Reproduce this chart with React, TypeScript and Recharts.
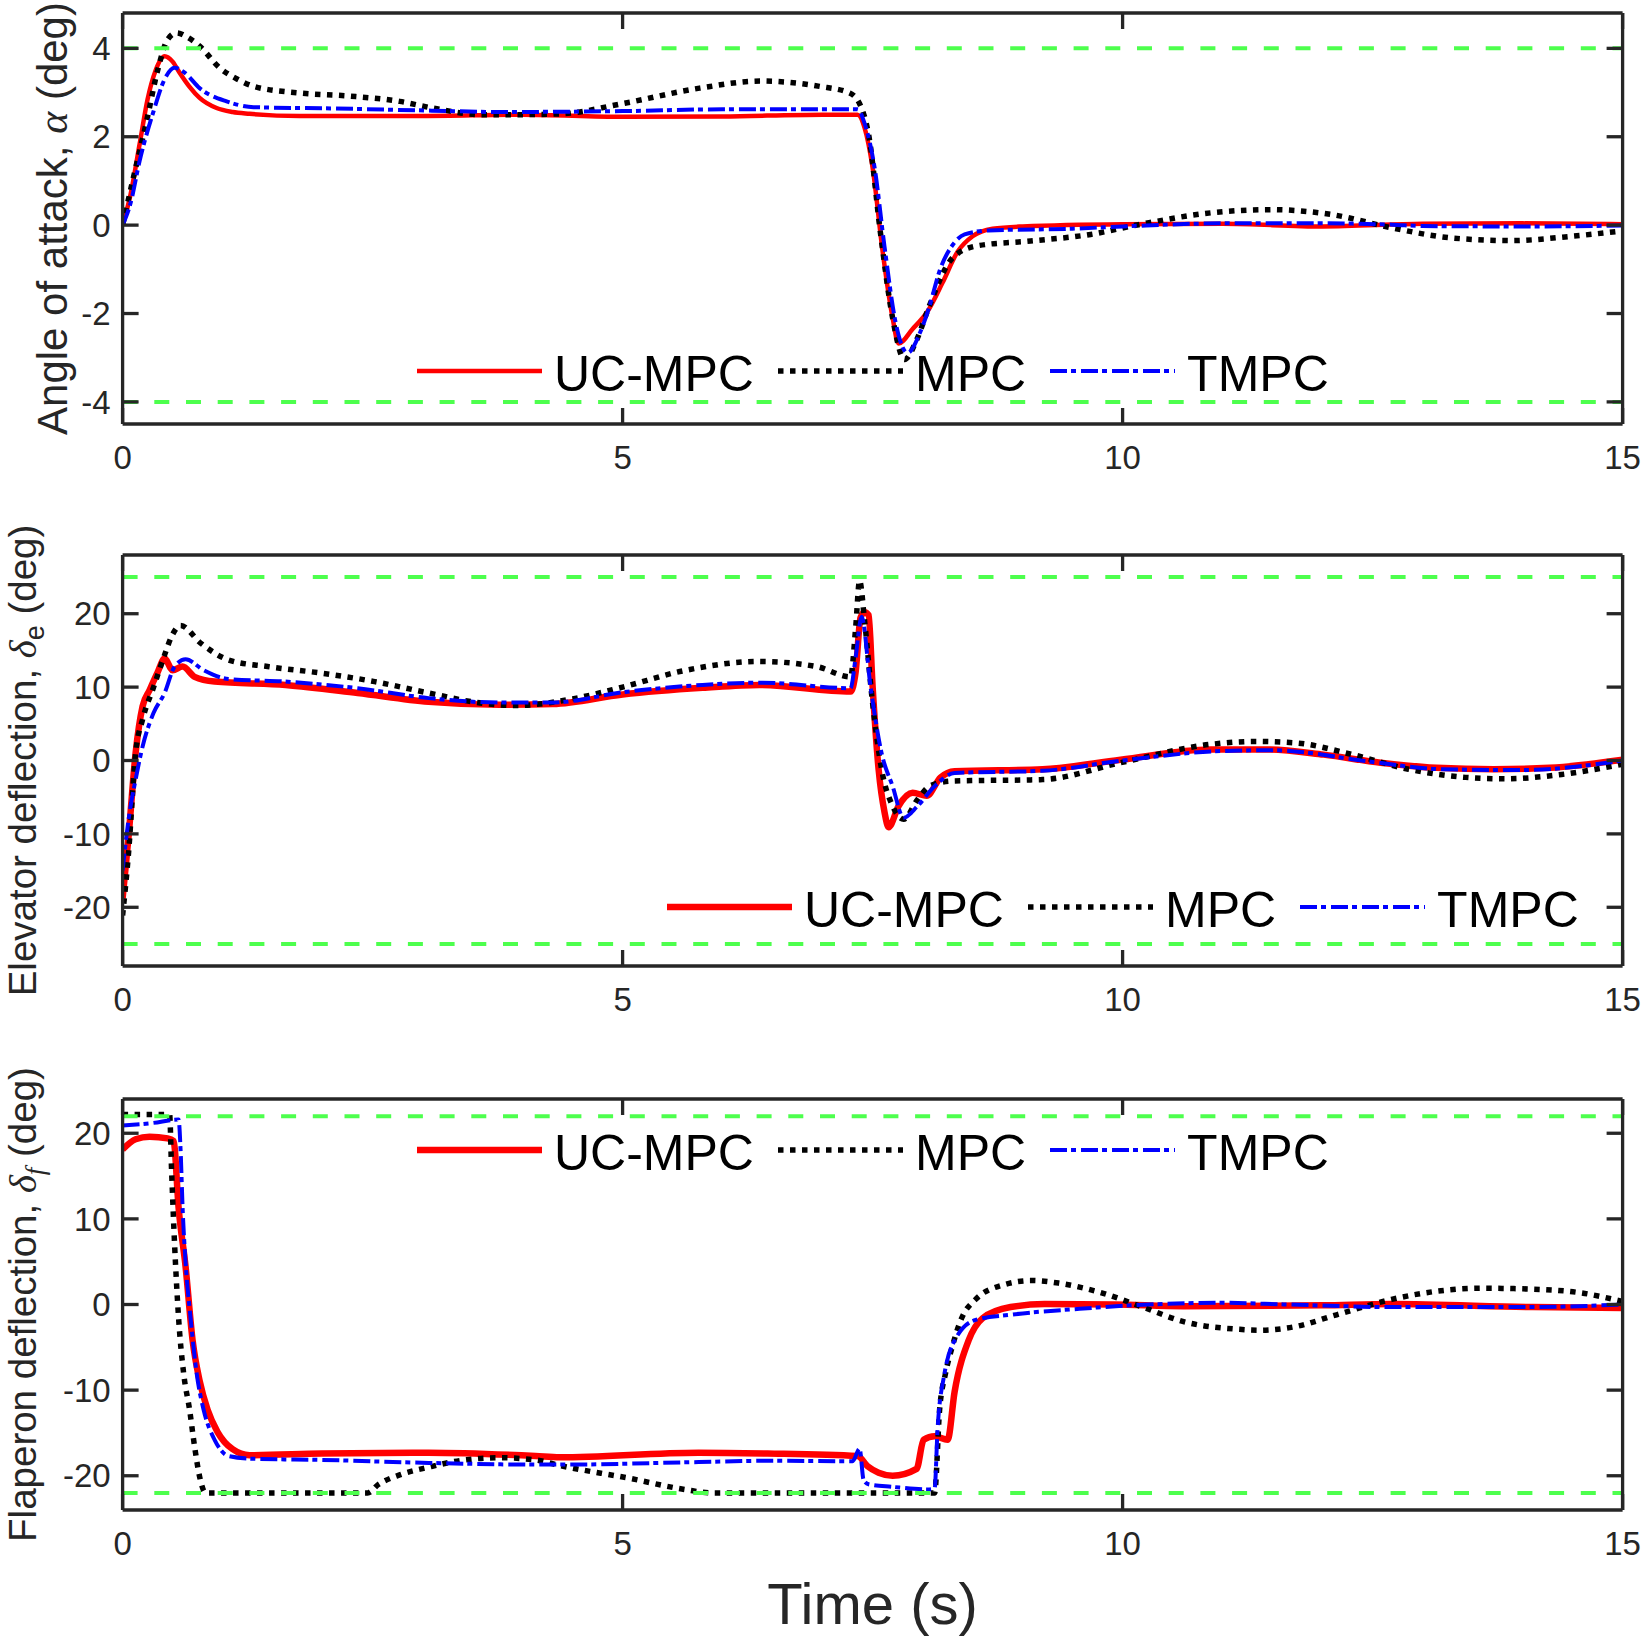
import { Legend, Line, LineChart, ReferenceLine, XAxis, YAxis } from 'recharts'
import type { ReactNode } from 'react'

type Pt = [number, number]

const TIME_TICKS = [0, 5, 10, 15]
const ALPHA_TICKS = [-4, -2, 0, 2, 4]
const DEFL_TICKS = [-20, -10, 0, 10, 20]

const SERIES_NAMES = ['UC-MPC', 'MPC', 'TMPC']

// angle of attack (deg)
const ALPHA_UCMPC: Pt[] = [
  [0, 0], [0.08, 0.7], [0.17, 1.83], [0.25, 2.85], [0.33, 3.5], [0.42, 3.82], [0.5, 3.7],
  [0.57, 3.45], [0.67, 3.13], [0.77, 2.88], [0.94, 2.65], [1.1, 2.56], [1.27, 2.52],
  [1.77, 2.47], [3, 2.47], [4, 2.5], [5, 2.45], [6, 2.46], [7, 2.5], [7.35, 2.5],
  [7.42, 2.2], [7.5, 1.3], [7.6, -0.59], [7.7, -2.1], [7.76, -2.68], [7.9, -2.35],
  [8.05, -1.95], [8.2, -1.3], [8.35, -0.6], [8.5, -0.25], [8.7, -0.08], [9, -0.03],
  [10, 0.02], [11, 0.03], [12, -0.03], [13, 0.03], [14, 0.04], [15, 0.02],
]
const ALPHA_MPC: Pt[] = [
  [0, 0], [0.1, 1.0], [0.24, 2.35], [0.35, 3.5], [0.45, 4.2], [0.54, 4.35], [0.65, 4.25],
  [0.77, 4.05], [0.97, 3.56], [1.15, 3.3], [1.31, 3.14], [1.77, 2.99], [2.27, 2.92],
  [2.77, 2.8], [3.1, 2.65], [3.6, 2.5], [4, 2.5], [4.4, 2.52], [5, 2.75], [5.77, 3.1],
  [6.38, 3.26], [6.97, 3.14], [7.27, 2.99], [7.38, 2.7], [7.46, 2.05], [7.58, -0.2],
  [7.7, -2.1], [7.82, -3.04], [7.94, -2.6], [8.06, -1.87], [8.3, -0.74], [8.54, -0.47],
  [9.08, -0.36], [9.68, -0.21], [10.16, 0.01], [10.89, 0.28], [11.49, 0.35], [12.09, 0.24],
  [12.69, -0.06], [13.29, -0.29], [13.89, -0.35], [14.5, -0.25], [15, -0.13],
]
const ALPHA_TMPC: Pt[] = [
  [0, 0], [0.08, 0.5], [0.17, 1.45], [0.31, 2.58], [0.42, 3.3], [0.52, 3.56], [0.62, 3.45],
  [0.77, 3.1], [1.04, 2.8], [1.31, 2.67], [2.11, 2.64], [3.1, 2.59], [3.77, 2.56], [5, 2.58],
  [6, 2.62], [7.35, 2.62], [7.42, 2.3], [7.52, 1.3], [7.62, -0.5], [7.73, -2.2], [7.85, -2.89],
  [7.98, -2.4], [8.06, -1.9], [8.18, -0.97], [8.3, -0.45], [8.42, -0.21], [8.66, -0.12],
  [9.5, -0.08], [10, -0.03], [11, 0.04], [12, 0.04], [12.7, 0.01], [13, -0.02], [14, -0.03],
  [15, -0.01],
]

// elevator deflection (deg)
const ELEV_UCMPC: Pt[] = [
  [0, -18.8], [0.06, -10.3], [0.13, 1.0], [0.2, 7.4], [0.27, 9.6], [0.35, 12], [0.42, 13.9],
  [0.5, 12.3], [0.6, 12.8], [0.72, 11.4], [0.92, 10.75], [1.63, 10.3], [2.35, 9.2], [3.06, 8.0],
  [3.77, 7.6], [4.3, 7.7], [5, 9.0], [5.8, 9.9], [6.37, 10.3], [7.28, 9.4], [7.33, 12],
  [7.38, 19.5], [7.42, 20.2], [7.46, 19.8], [7.5, 10.1], [7.56, -1.2], [7.62, -7.1],
  [7.66, -9.1], [7.76, -6.2], [7.9, -4.4], [8.04, -4.8], [8.18, -2.3], [8.32, -1.45],
  [9.2, -1.2], [9.98, 0.1], [10.88, 1.5], [11.45, 1.5], [12.01, 0.8], [12.58, -0.3],
  [13.14, -1.0], [13.71, -1.2], [14.27, -1.0], [15, 0.1],
]
const ELEV_MPC: Pt[] = [
  [0, -21.1], [0.06, -12.5], [0.13, 1.0], [0.2, 5.6], [0.31, 10], [0.42, 14.4], [0.49, 16.9],
  [0.58, 18.4], [0.78, 16.0], [1.06, 13.7], [1.45, 12.8], [1.99, 11.9], [2.52, 10.75],
  [3.06, 9.2], [3.6, 7.8], [3.95, 7.5], [4.5, 8.4], [5, 10], [5.6, 12.2], [6.37, 13.5],
  [6.94, 12.8], [7.28, 11.4], [7.33, 18], [7.37, 24.5], [7.42, 19], [7.5, 7.8], [7.59, -1.2],
  [7.7, -6.2], [7.81, -8.0], [7.95, -5.3], [8.07, -3.5], [8.29, -2.8], [9.2, -2.6],
  [9.98, -0.3], [10.88, 2.2], [11.33, 2.6], [11.73, 2.4], [12.3, 0.8], [12.86, -1.2],
  [13.43, -2.3], [13.82, -2.5], [14.39, -1.9], [15, -0.5],
]
const ELEV_TMPC: Pt[] = [
  [0, -15], [0.06, -8], [0.13, -2.6], [0.2, 1.9], [0.31, 6.5], [0.42, 9.2], [0.52, 12.8],
  [0.63, 13.8], [0.81, 12.3], [1.06, 11.1], [1.63, 10.75], [2.35, 9.85], [3.06, 8.5],
  [3.77, 7.9], [4.3, 7.9], [5, 9.3], [5.8, 10.3], [6.4, 10.6], [7.28, 9.85], [7.33, 14],
  [7.39, 19.6], [7.48, 10], [7.59, 1.0], [7.7, -3.5], [7.81, -7.8], [7.95, -6.2],
  [8.12, -3.5], [8.32, -1.7], [9.2, -1.4], [10, 0], [11, 1.3], [11.5, 1.4], [12.5, -0.2],
  [13.2, -1.2], [14, -1.3], [15, 0],
]

// flaperon deflection (deg)
const FLAP_UCMPC: Pt[] = [
  [0, 18.1], [0.13, 19.3], [0.27, 19.6], [0.45, 19.4], [0.51, 19.1], [0.56, 11.3], [0.63, 4.4],
  [0.7, -4.2], [0.77, -8.9], [0.85, -12.3], [0.95, -14.9], [1.1, -16.9], [1.27, -17.6],
  [1.99, -17.4], [3.06, -17.3], [4.13, -17.7], [4.37, -17.85], [5.76, -17.3], [6.45, -17.4],
  [7.35, -17.7], [7.45, -18.9], [7.56, -19.65], [7.7, -20], [7.94, -19.2], [8.01, -15.8],
  [8.12, -15.4], [8.25, -15.8], [8.32, -10.2], [8.46, -4.2], [8.6, -1.6], [8.88, -0.3],
  [9.22, 0.05], [9.92, 0], [10.61, -0.2], [12, -0.1], [12.69, 0.05], [14.1, -0.3], [15, -0.4],
]
const FLAP_MPC: Pt[] = [
  [0, 22.2], [0.47, 22.2], [0.49, 15.6], [0.52, 7.0], [0.56, -1.6], [0.61, -8.0], [0.67, -12.3],
  [0.72, -16.6], [0.77, -20.1], [0.83, -22], [2.45, -22], [2.56, -21], [2.77, -19.9],
  [3.06, -19], [3.42, -18.15], [3.77, -17.9], [4.13, -18.15], [4.37, -18.8], [5.07, -20.3],
  [5.62, -21.6], [5.9, -22], [8.12, -22], [8.17, -12.3], [8.23, -8.0], [8.29, -5.2],
  [8.39, -1.6], [8.53, 0.6], [8.81, 2.3], [9.09, 2.8], [9.36, 2.5], [9.78, 1.4], [10.2, -0.3],
  [10.61, -2.0], [11.17, -2.9], [11.37, -3.0], [11.72, -2.6], [12.14, -1.2], [12.69, 0.6],
  [13.11, 1.5], [13.59, 1.9], [14.08, 1.8], [14.56, 1.4], [15, 0.35],
]
const FLAP_TMPC: Pt[] = [
  [0, 20.9], [0.3, 21.2], [0.56, 21.6], [0.58, 18], [0.6, 11.3], [0.63, 4.9], [0.68, -1.6],
  [0.74, -8.0], [0.81, -12.3], [0.92, -15.8], [1.06, -17.7], [1.27, -18], [1.99, -18.15],
  [3.06, -18.5], [4.13, -18.7], [4.37, -18.7], [5.76, -18.4], [6.45, -18.25], [7.3, -18.3],
  [7.37, -16.85], [7.41, -20.5], [7.46, -21], [7.7, -21.3], [8.05, -21.6], [8.12, -21.5],
  [8.15, -14.5], [8.22, -8.0], [8.32, -4.2], [8.53, -1.8], [8.88, -1.2], [9.57, -0.5],
  [10.26, 0], [10.96, 0.2], [11.65, 0], [12.69, -0.3], [14.08, -0.3], [15, 0],
]

const ALPHA_LIMITS = [-4, 4]
const ELEV_LIMITS = [-25, 25]
const FLAP_LIMITS = [-22, 22]

const AXIS = '#262626'
const FONT = '"Liberation Sans", Arial, Helvetica, sans-serif'
const MATH = '"Liberation Serif", "DejaVu Serif", serif'
const PLOT_H = 411
const MT = 40 // room above each plot for the rotated y titles
const TICK_LEN = 16
const FRAME_W = 3.3

const toRows = (pts: Pt[]) => pts.map(([t, v]) => ({ t, v }))

const lineStyle = (name: string, redWidth: number) => {
  if (name === 'UC-MPC') return { stroke: '#ff0000', strokeWidth: redWidth, dash: undefined }
  if (name === 'MPC') return { stroke: '#000000', strokeWidth: 5.5, dash: '5.5 6.5' }
  return { stroke: '#0000ff', strokeWidth: 4, dash: '17 4 5 5' }
}

// MATLAB style ticks: drawn inside the box, label outside
const BottomTick = ({ x, y, payload }: any) => (
  <g>
    <line x1={x} x2={x} y1={y - 22} y2={y - 22 - TICK_LEN} stroke={AXIS} strokeWidth={FRAME_W} />
    <text x={x} y={y} dy="0.71em" textAnchor="middle" fontSize={33} fill={AXIS} fontFamily={FONT}>
      {payload.value}
    </text>
  </g>
)
const LeftTick = ({ x, y, payload }: any) => (
  <g>
    <line x1={x + 12} x2={x + 12 + TICK_LEN} y1={y} y2={y} stroke={AXIS} strokeWidth={FRAME_W} />
    <text x={x} y={y} dy="0.355em" textAnchor="end" fontSize={33} fill={AXIS} fontFamily={FONT}>
      {payload.value}
    </text>
  </g>
)
const TopTick = ({ x, y }: any) => (
  <line x1={x} x2={x} y1={y} y2={y + TICK_LEN} stroke={AXIS} strokeWidth={FRAME_W} />
)
const RightTick = ({ x, y }: any) => (
  <line x1={x} x2={x - TICK_LEN} y1={y} y2={y} stroke={AXIS} strokeWidth={FRAME_W} />
)

const LegendRow = ({ redWidth }: { redWidth: number }) => (
  <div style={{ display: 'flex', alignItems: 'flex-start', height: 56, fontFamily: FONT }}>
    {SERIES_NAMES.map((name) => {
      const s = lineStyle(name, redWidth)
      return (
        <div key={name} style={{ display: 'flex', alignItems: 'flex-start', marginRight: 24 }}>
          <svg width={125} height={56}>
            <line
              x1={0}
              x2={125}
              y1={25}
              y2={25}
              stroke={s.stroke}
              strokeWidth={s.strokeWidth}
              strokeDasharray={s.dash}
            />
          </svg>
          <span style={{ fontSize: 50, lineHeight: '56px', marginLeft: 12, color: '#000' }}>
            {name}
          </span>
        </div>
      )
    })}
  </div>
)

const YTitle = ({
  viewBox,
  x,
  size,
  children,
}: {
  viewBox?: any
  x: number
  size: number
  children: ReactNode
}) => {
  const cy = viewBox.y + viewBox.height / 2
  return (
    <text
      x={x}
      y={cy}
      transform={`rotate(-90 ${x} ${cy})`}
      textAnchor="middle"
      fontSize={size}
      fill={AXIS}
      fontFamily={FONT}
    >
      {children}
    </text>
  )
}

interface PanelProps {
  plotTop: number
  bottomRoom: number
  series: Pt[][]
  domain: [number, number]
  ticks: number[]
  limits: number[]
  title: ReactNode
  titleX: number
  titleSize: number
  legendLeft: number
  legendY: number
  redWidth: number
  timeLabel?: boolean
}

const Panel = ({
  plotTop,
  bottomRoom,
  series,
  domain,
  ticks,
  limits,
  title,
  titleX,
  titleSize,
  legendLeft,
  legendY,
  redWidth,
  timeLabel = false,
}: PanelProps) => {
  const top = plotTop - MT - 1
  const height = MT + 1 + PLOT_H + 60 + bottomRoom
  return (
    <div style={{ position: 'absolute', left: 0, top }}>
      <LineChart
        width={1643}
        height={height}
        margin={{ top: MT, right: 19.4, bottom: bottomRoom, left: 0 }}
        style={{ fontFamily: FONT }}
      >
        <XAxis
          dataKey="t"
          type="number"
          domain={[0, 15]}
          ticks={TIME_TICKS}
          interval={0}
          allowDataOverflow
          height={60}
          axisLine={{ stroke: AXIS, strokeWidth: FRAME_W }}
          tickLine={false}
          tickSize={0}
          tickMargin={22}
          tick={<BottomTick />}
          label={
            timeLabel
              ? {
                  content: (p: any) => (
                    <text
                      x={p.viewBox.x + p.viewBox.width / 2}
                      y={p.viewBox.y + 114}
                      textAnchor="middle"
                      fontSize={58}
                      fill={AXIS}
                      fontFamily={FONT}
                    >
                      Time (s)
                    </text>
                  ),
                }
              : undefined
          }
        />
        <XAxis
          xAxisId="top"
          orientation="top"
          dataKey="t"
          type="number"
          domain={[0, 15]}
          ticks={TIME_TICKS}
          interval={0}
          allowDataOverflow
          height={1}
          axisLine={{ stroke: AXIS, strokeWidth: FRAME_W }}
          tickLine={false}
          tickSize={0}
          tickMargin={0}
          tick={<TopTick />}
        />
        <YAxis
          type="number"
          domain={domain}
          ticks={ticks}
          interval={0}
          allowDataOverflow
          width={122.6}
          axisLine={{ stroke: AXIS, strokeWidth: FRAME_W }}
          tickLine={false}
          tickSize={0}
          tickMargin={12}
          tick={<LeftTick />}
          label={{
            content: (p: any) => (
              <YTitle viewBox={p.viewBox} x={titleX} size={titleSize}>
                {title}
              </YTitle>
            ),
          }}
        />
        <YAxis
          yAxisId="right"
          orientation="right"
          type="number"
          domain={domain}
          ticks={ticks}
          interval={0}
          allowDataOverflow
          width={1}
          axisLine={{ stroke: AXIS, strokeWidth: FRAME_W }}
          tickLine={false}
          tickSize={0}
          tickMargin={0}
          tick={<RightTick />}
        />
        {SERIES_NAMES.map((name, i) => {
          const s = lineStyle(name, redWidth)
          return (
            <Line
              key={name}
              name={name}
              data={toRows(series[i])}
              dataKey="v"
              type="monotone"
              stroke={s.stroke}
              strokeWidth={s.strokeWidth}
              strokeDasharray={s.dash}
              dot={false}
              activeDot={false}
              isAnimationActive={false}
            />
          )
        })}
        {limits.map((y) => (
          <ReferenceLine
            key={y}
            y={y}
            stroke="#4dff4d"
            strokeWidth={4}
            strokeDasharray="15 16.7"
          />
        ))}
        <Legend
          layout="horizontal"
          verticalAlign="middle"
          align="center"
          wrapperStyle={{ left: legendLeft, top: legendY - top - 25, width: 'auto', height: 56 }}
          content={() => <LegendRow redWidth={redWidth} />}
        />
      </LineChart>
    </div>
  )
}

export default function App() {
  return (
    <div
      style={{
        position: 'absolute',
        left: 0,
        top: 0,
        width: 1643,
        height: 1640,
        background: '#ffffff',
        fontFamily: FONT,
        overflow: 'hidden',
      }}
    >
      <Panel
        plotTop={12.5}
        bottomRoom={30}
        series={[ALPHA_UCMPC, ALPHA_MPC, ALPHA_TMPC]}
        domain={[-4.5, 4.8]}
        ticks={ALPHA_TICKS}
        limits={ALPHA_LIMITS}
        titleX={67}
        titleSize={42}
        title={
          <>
            {'Angle of attack, '}
            <tspan fontFamily={MATH} fontStyle="italic">α</tspan>
            {' (deg)'}
          </>
        }
        legendLeft={417}
        legendY={371}
        redWidth={4.5}
      />
      <Panel
        plotTop={555}
        bottomRoom={30}
        series={[ELEV_UCMPC, ELEV_MPC, ELEV_TMPC]}
        domain={[-28, 28]}
        ticks={DEFL_TICKS}
        limits={ELEV_LIMITS}
        titleX={35.5}
        titleSize={38.5}
        title={
          <>
            {'Elevator deflection, '}
            <tspan fontFamily={MATH} fontStyle="italic">δ</tspan>
            <tspan fontSize={27} dy={8}>e</tspan>
            <tspan dy={-8}>{' (deg)'}</tspan>
          </>
        }
        legendLeft={667}
        legendY={906.5}
        redWidth={6.5}
      />
      <Panel
        plotTop={1099}
        bottomRoom={70}
        series={[FLAP_UCMPC, FLAP_MPC, FLAP_TMPC]}
        domain={[-24, 24]}
        ticks={DEFL_TICKS}
        limits={FLAP_LIMITS}
        titleX={35.5}
        titleSize={38.5}
        title={
          <>
            {'Flaperon deflection, '}
            <tspan fontFamily={MATH} fontStyle="italic">δ</tspan>
            <tspan fontFamily={MATH} fontStyle="italic" fontSize={27} dy={8}>f</tspan>
            <tspan dy={-8}>{' (deg)'}</tspan>
          </>
        }
        legendLeft={417}
        legendY={1150}
        redWidth={6.5}
        timeLabel
      />
    </div>
  )
}
